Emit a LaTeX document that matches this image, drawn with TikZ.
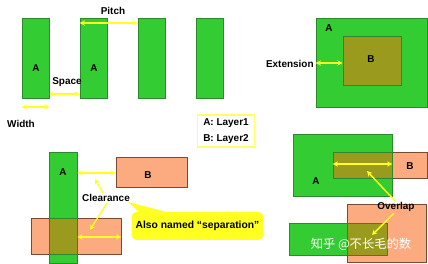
\documentclass[tikz,border=0pt]{standalone}
\usepackage{fontspec}
\setmainfont{Liberation Sans}
\newfontfamily\cjkfont{Noto Sans CJK SC}
\usetikzlibrary{arrows.meta,fit}
\definecolor{layergreen}{HTML}{33CC33}
\definecolor{greenedge}{HTML}{2B8A2B}
\definecolor{layerpeach}{HTML}{FCAA80}
\definecolor{peachedge}{HTML}{7A4A30}
\definecolor{overlapolive}{HTML}{9A9A1E}
\definecolor{markyellow}{HTML}{FFFF22}
\definecolor{legendyellow}{HTML}{FFFF66}

\begin{document}
\begin{tikzpicture}[
      x=0.3mm, y=-0.3mm,
      layerA/.style={draw=greenedge, fill=layergreen, line width=0.5pt, inner sep=0pt},
      layerB/.style={draw=peachedge, fill=layerpeach, line width=0.5pt, inner sep=0pt},
      overlap/.style={draw=greenedge, fill=overlapolive, line width=0.5pt, inner sep=0pt},
      tag/.style={font=\fontsize{8.5}{10}\selectfont\bfseries, inner sep=1pt},
      dim/.style={{Stealth[length=1.6mm,width=1.6mm]}-{Stealth[length=1.6mm,width=1.6mm]},
        draw=markyellow, line width=1.2pt},
      pointer/.style={-{Stealth[length=1.6mm,width=1.6mm]}, draw=markyellow, line width=1.2pt}
    ]
    \useasboundingbox (0,0) rectangle (428,264);

    % width / space / pitch
    \node[layerA, fit={(22,18) (49,98)}] (bar1) {};
    \node[layerA, fit={(80,18) (107,98)}] (bar2) {};
    \node[layerA, fit={(138,18) (165,98)}] (bar3) {};
    \node[layerA, fit={(196,18) (223,98)}] (bar4) {};
    \node[tag] (bar1A) at (36,68) {A};
    \node[tag] (bar2A) at (94,68) {A};
    \node[tag] (pitchtxt) at (113,11) {Pitch};
    \node[tag] (spacetxt) at (67,82) {Space};
    \node[tag] (widthtxt) at (21,124) {Width};
    \draw[dim] (bar2.west |- 0,23) -- (bar3.west |- 0,23);
    \draw[dim] (bar1.east |- 0,94) -- (bar2.west |- 0,94);
    \draw[dim] (bar1.west |- 0,107) -- (bar1.east |- 0,107);

    % extension
    \node[layerA, fit={(316,18) (427,107)}] (extA) {};
    \node[overlap, fit={(343,36) (401,85)}] (extB) {};
    \node[tag] (extAtxt) at (329,28) {A};
    \node[tag] (extBtxt) at (371,59) {B};
    \node[tag, anchor=east] (exttxt) at (315,64) {Extension};
    \draw[dim] (extA.west |- 0,63) -- (extB.west |- 0,63);

    % legend
    \node[draw=legendyellow, line width=1.6pt, fill=white, align=left,
      font=\fontsize{8.5}{13}\selectfont\bfseries, inner xsep=5pt, inner ysep=3pt]
      (legend) at (226,131) {A: Layer1\\B: Layer2};

    % clearance
    \node[layerA, fit={(49,152) (77,263)}] (clrA) {};
    \node[layerB, fit={(116,157) (187,187)}] (clrB) {};
    \node[layerB, fit={(31,218) (121,254)}] (clrBlow) {};
    \node[overlap, fit={(49,218) (77,254)}] (clrAB) {};
    \node[tag] (clrAtxt) at (63,172) {A};
    \node[tag] (clrBtxt) at (148,175) {B};
    \node[tag] (clrtxt) at (106,198) {Clearance};
    \draw[dim] (clrA.east |- 0,173) -- (clrB.west |- 0,173);
    \draw[dim] (clrA.east |- 0,237) -- (clrBlow.east |- 0,237);
    \coordinate (clrup) at (95,179);
    \coordinate (clrdown) at (90,230);
    \draw[pointer] (clrtxt.north) ++(-3,0) -- (clrup);
    \draw[pointer] (clrtxt.south) ++(1,0) -- (clrdown);

    % callout
    \fill[markyellow] (clrtxt.east) ++(-3,4) -- (170,213) -- (142,215) -- cycle;
    \node[fill=markyellow, rounded corners=4pt, minimum width=123*0.3mm, minimum height=28*0.3mm,
      font=\fontsize{8.8}{10}\selectfont\bfseries] (callout) at (197.5,226) {Also named “separation”};

    % overlap
    \node[layerA, fit={(293,134) (392,196)}] (ovA) {};
    \node[layerB, fit={(333,152) (427,178)}] (ovB) {};
    \node[overlap, fit={(333,152) (392,178)}] (ovAB) {};
    \node[tag] (ovAtxt) at (316,181) {A};
    \node[tag] (ovBtxt) at (410,166) {B};
    \draw[dim] (ovB.west |- 0,164) -- (ovA.east |- 0,164);
    \node[layerA, fit={(289,223) (387,255)}] (ovA2) {};
    \node[layerB, fit={(347,204) (426,262)}] (ovB2) {};
    \node[overlap, fit={(347,223) (387,255)}] (ovAB2) {};
    \node[tag] (ovtxt) at (396,207) {Overlap};
    \coordinate (ovup) at (367,171);
    \coordinate (ovdown) at (372,235);
    \draw[pointer] (ovtxt.north) ++(-1,0) -- (ovup);
    \draw[pointer] (ovtxt.south) ++(-2,0) -- (ovdown);

    % watermark
    \node[text=white, font=\cjkfont\fontsize{10.5}{12}\selectfont] (mark) at (361,244) {知乎 @不长毛的数};
  \end{tikzpicture}
\end{document}
